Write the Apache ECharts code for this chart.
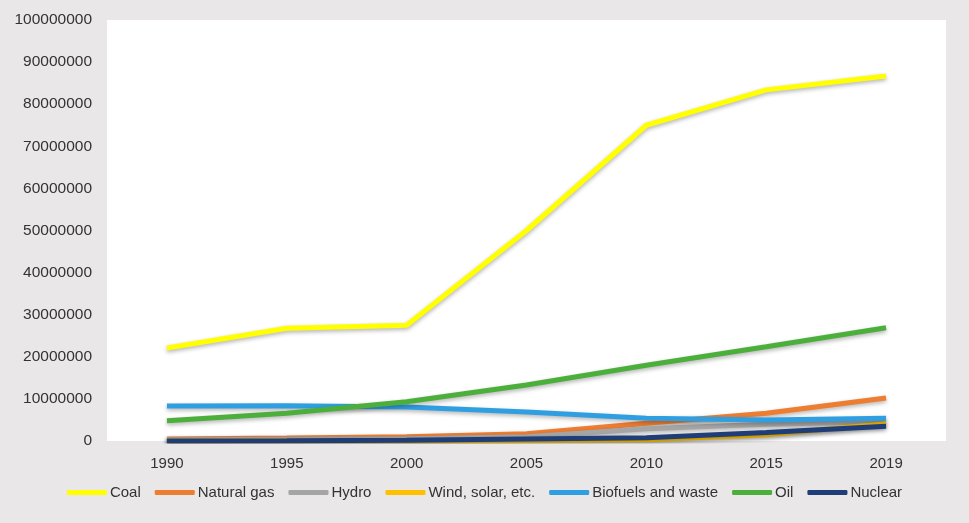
<!DOCTYPE html>
<html>
<head>
<meta charset="utf-8">
<script src="https://cdn.jsdelivr.net/npm/echarts@6/dist/echarts.min.js"></script>
<style>
  html, body { margin: 0; padding: 0; background: #e9e7e8; }
  #chart { width: 969px; height: 523px; }
</style>
</head>
<body>
<div id="chart"></div>
<script>
// 年份与各能源数据
var years = ['1990', '1995', '2000', '2005', '2010', '2015', '2019'];
var coal = [22100000, 26800000, 27500000, 50000000, 75000000, 83400000, 86700000];
var naturalGas = [500000, 700000, 1000000, 1700000, 4200000, 6600000, 10200000];
var hydro = [300000, 400000, 550000, 1000000, 2900000, 4000000, 4600000];
var windSolar = [0, 0, 20000, 100000, 300000, 1500000, 4100000];
var biofuels = [8300000, 8400000, 8100000, 6900000, 5400000, 5000000, 5400000];
var oil = [4800000, 6600000, 9300000, 13300000, 18000000, 22400000, 26900000];
var nuclear = [0, 30000, 200000, 500000, 800000, 2000000, 3500000];

var seriesNames = ['Coal', 'Natural gas', 'Hydro', 'Wind, solar, etc.', 'Biofuels and waste', 'Oil', 'Nuclear'];
var seriesData = [coal, naturalGas, hydro, windSolar, biofuels, oil, nuclear];
var colors = ['#ffff00', '#ed7d31', '#a5a5a5', '#ffc000', '#2f9fe2', '#4caf3c', '#1f3e78'];

var myChart = echarts.init(document.getElementById('chart'));

var series = seriesNames.map(function (name, i) {
    return {
        name: name,
        type: 'line',
        data: seriesData[i],
        symbol: 'none',
        lineStyle: {
            width: 5,
            color: colors[i],
            shadowColor: 'rgba(0,0,0,0.3)',
            shadowBlur: 4,
            shadowOffsetY: 2
        },
        itemStyle: { color: colors[i] }
    };
});

myChart.setOption({
    backgroundColor: '#e9e7e8',
    color: colors,
    animation: false,
    grid: {
        left: 107,
        right: 23,
        top: 20,
        bottom: 82,
        show: true,
        backgroundColor: '#ffffff',
        borderWidth: 0
    },
    legend: {
        bottom: 18,
        left: 'center',
        icon: 'roundRect',
        itemWidth: 40,
        itemHeight: 5,
        itemGap: 14,
        textStyle: {
            fontFamily: 'Liberation Sans',
            fontSize: 15,
            color: '#333',
            padding: [0, 0, 0, -2]
        },
        data: seriesNames
    },
    xAxis: {
        type: 'category',
        data: years,
        boundaryGap: true,
        axisLine: { show: false },
        axisTick: { show: false },
        axisLabel: {
            margin: 15,
            fontFamily: 'Liberation Sans',
            fontSize: 15,
            color: '#333'
        }
    },
    yAxis: {
        type: 'value',
        min: 0,
        max: 100000000,
        interval: 10000000,
        splitLine: { show: false },
        axisLine: { show: false },
        axisTick: { show: false },
        axisLabel: {
            margin: 15,
            fontFamily: 'Liberation Sans',
            fontSize: 15.5,
            color: '#333',
            formatter: function (v) { return String(v); }
        }
    },
    series: series
});
</script>
</body>
</html>
